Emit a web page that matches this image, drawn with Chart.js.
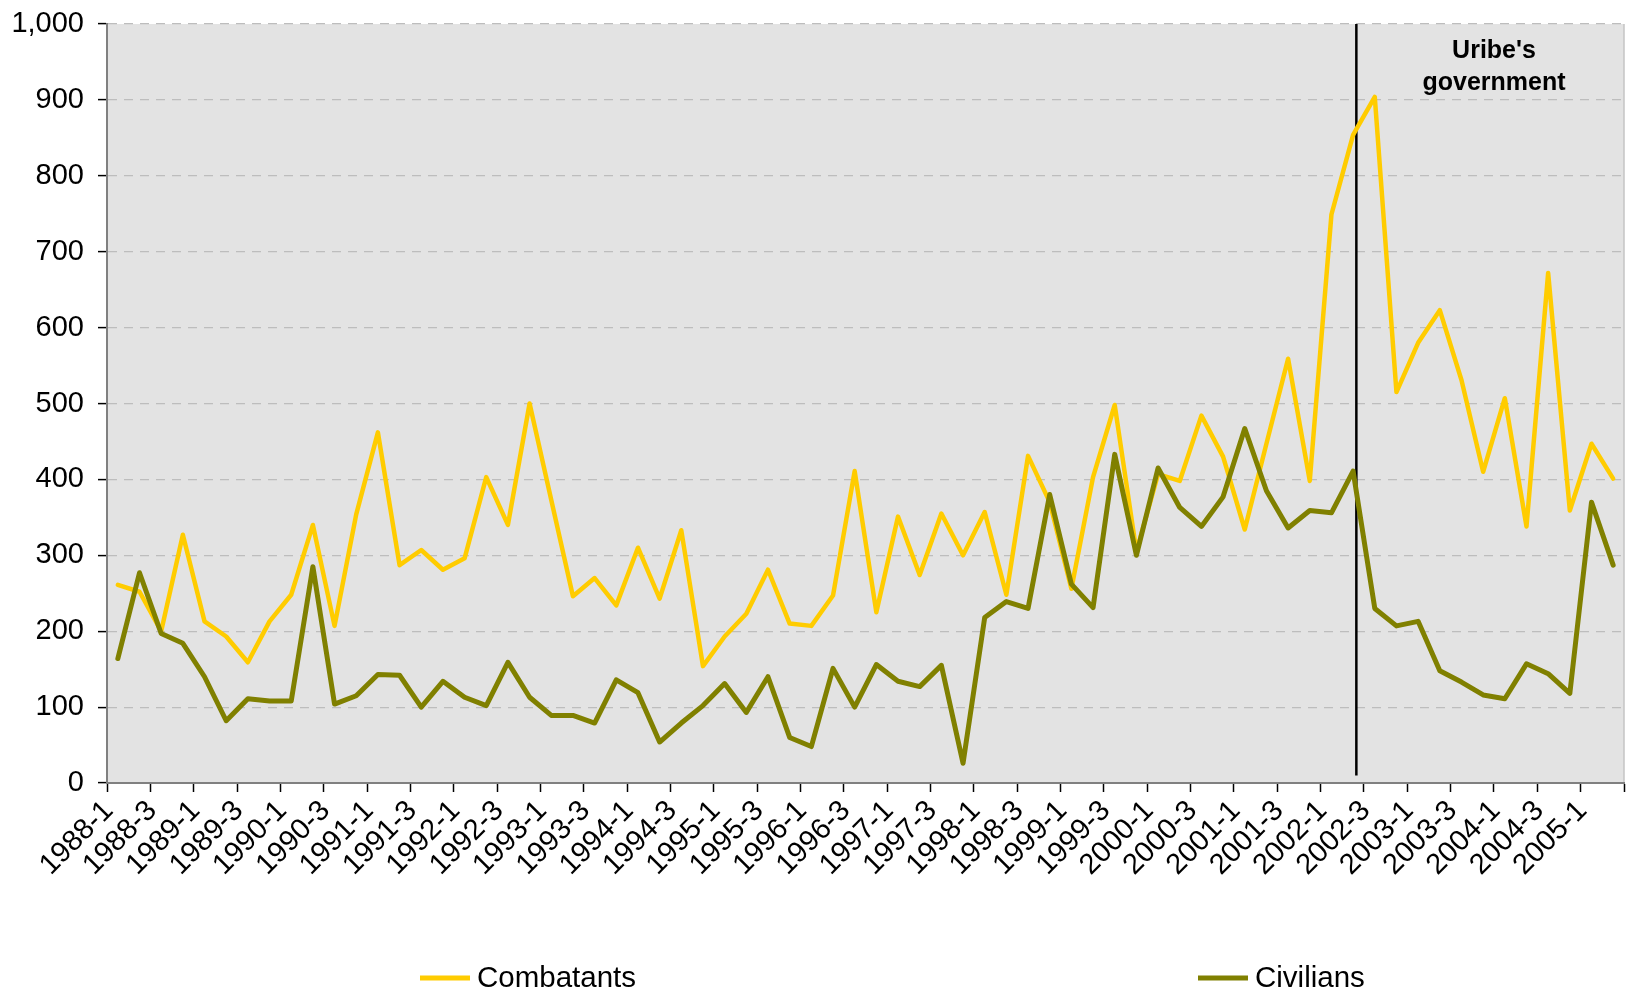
<!DOCTYPE html>
<html>
<head>
<meta charset="utf-8">
<script src="https://cdn.jsdelivr.net/npm/chart.js@4.4.1/dist/chart.umd.min.js"></script>
<style>
  html, body { margin: 0; padding: 0; background: #fff; }
  #wrap { width: 1626px; height: 992px; position: relative; }
</style>
</head>
<body>
<div id="wrap"><canvas id="lineChart"></canvas></div>
<script>
// Quarterly deaths, 1988-1 .. 2005-2
const quarters = [
    '1988-1', '1988-2', '1988-3', '1988-4', '1989-1', '1989-2', '1989-3', '1989-4',
    '1990-1', '1990-2', '1990-3', '1990-4', '1991-1', '1991-2', '1991-3', '1991-4',
    '1992-1', '1992-2', '1992-3', '1992-4', '1993-1', '1993-2', '1993-3', '1993-4',
    '1994-1', '1994-2', '1994-3', '1994-4', '1995-1', '1995-2', '1995-3', '1995-4',
    '1996-1', '1996-2', '1996-3', '1996-4', '1997-1', '1997-2', '1997-3', '1997-4',
    '1998-1', '1998-2', '1998-3', '1998-4', '1999-1', '1999-2', '1999-3', '1999-4',
    '2000-1', '2000-2', '2000-3', '2000-4', '2001-1', '2001-2', '2001-3', '2001-4',
    '2002-1', '2002-2', '2002-3', '2002-4', '2003-1', '2003-2', '2003-3', '2003-4',
    '2004-1', '2004-2', '2004-3', '2004-4', '2005-1', '2005-2'
];

const combatants = [
    261, 252, 200, 327, 213, 193, 159, 213, 248, 340, 207, 354,
    462, 287, 307, 281, 296, 403, 340, 500, 373, 246, 270, 234,
    310, 243, 333, 154, 193, 223, 281, 210, 207, 247, 411, 225,
    351, 274, 355, 300, 357, 248, 431, 370, 256, 403, 498, 305,
    407, 398, 484, 430, 334, 447, 559, 398, 749, 854, 904, 515,
    580, 623, 531, 410, 507, 338, 672, 359, 447, 401
];

const civilians = [
    164, 277, 197, 184, 140, 82, 111, 108, 108, 285, 104, 115,
    143, 142, 100, 134, 113, 102, 159, 113, 89, 89, 79, 136,
    119, 54, 79, 102, 131, 93, 140, 60, 48, 151, 100, 156,
    134, 127, 155, 26, 218, 239, 230, 380, 262, 231, 433, 300,
    415, 363, 338, 377, 467, 385, 336, 359, 356, 411, 230, 207,
    213, 148, 133, 116, 111, 157, 144, 118, 370, 287
];

// start of Uribe's government, in category units (between 2002-2 and 2002-3)
const uribeStart = 57.15;
const uribeLabel = ["Uribe's", 'government'];

const FONT = "'Liberation Sans', Arial, sans-serif";
const legendX = [420, 1198];
const legendY = 978;

// grey plot background + right border
const plotFrame = {
    id: 'plotFrame',
    beforeDraw(chart) {
        const { ctx, chartArea: a } = chart;
        ctx.save();
        ctx.fillStyle = '#e3e3e3';
        ctx.fillRect(a.left, a.top, a.width, a.height);
        ctx.strokeStyle = '#c4c4c4';
        ctx.lineWidth = 1.5;
        ctx.beginPath();
        ctx.moveTo(a.right, a.top);
        ctx.lineTo(a.right, a.bottom);
        ctx.stroke();
        ctx.restore();
    }
};

// vertical marker + label
const uribeMarker = {
    id: 'uribeMarker',
    beforeDatasetsDraw(chart) {
        const { ctx, scales: { x, y } } = chart;
        const px = x.getPixelForValue(uribeStart);
        ctx.save();
        ctx.strokeStyle = '#000';
        ctx.lineWidth = 2.5;
        ctx.beginPath();
        ctx.moveTo(px, y.getPixelForValue(1000));
        ctx.lineTo(px, y.getPixelForValue(10));
        ctx.stroke();
        ctx.font = 'bold 25px ' + FONT;
        ctx.textAlign = 'center';
        ctx.textBaseline = 'middle';
        ctx.fillStyle = '#000';
        const cx = x.getPixelForValue(63.5);
        ctx.fillText(uribeLabel[0], cx, y.getPixelForValue(964));
        ctx.fillText(uribeLabel[1], cx, y.getPixelForValue(922));
        ctx.restore();
    }
};

// legend with the two entries spread apart, like the original
const splitLegend = {
    id: 'splitLegend',
    afterDraw(chart) {
        const { ctx } = chart;
        ctx.save();
        ctx.font = '29.5px ' + FONT;
        ctx.textBaseline = 'middle';
        chart.data.datasets.forEach((ds, i) => {
            const x0 = legendX[i];
            ctx.strokeStyle = ds.borderColor;
            ctx.lineWidth = 5;
            ctx.beginPath();
            ctx.moveTo(x0, legendY);
            ctx.lineTo(x0 + 50, legendY);
            ctx.stroke();
            ctx.fillStyle = '#000';
            ctx.fillText(ds.label, x0 + 57, legendY + 1);
        });
        ctx.restore();
    }
};

const ctx = document.getElementById('lineChart').getContext('2d');
new Chart(ctx, {
    type: 'line',
    data: {
        labels: quarters,
        datasets: [{
            label: 'Combatants',
            data: combatants,
            borderColor: '#ffcc00',
            borderWidth: 4.5,
            order: 1
        }, {
            label: 'Civilians',
            data: civilians,
            borderColor: '#808000',
            borderWidth: 5,
            order: 0
        }]
    },
    options: {
        responsive: true,
        maintainAspectRatio: false,
        animation: false,
        layout: { padding: { top: 24, right: 2, bottom: 79, left: 0 } },
        elements: {
            point: { radius: 0 },
            line: { tension: 0, borderJoinStyle: 'round', borderCapStyle: 'round' }
        },
        plugins: {
            legend: { display: false },
            tooltip: { enabled: false }
        },
        scales: {
            x: {
                offset: true,
                grid: {
                    offset: true,
                    drawOnChartArea: false,
                    tickLength: 9,
                    tickWidth: 1.5,
                    tickColor: c => (c.type !== 'tick' || c.index % 2 === 0) ? '#000' : 'rgba(0,0,0,0)'
                },
                border: { color: '#808080', width: 2 },
                ticks: {
                    autoSkip: false,
                    minRotation: 45,
                    maxRotation: 45,
                    padding: 2,
                    labelOffset: -9,
                    color: '#000',
                    font: { family: FONT, size: 29 },
                    callback: (v, i) => i % 2 === 0 ? quarters[i] : ''
                },
                afterFit: s => { s.height = 130; s.paddingLeft = 0; s.paddingRight = 0; }
            },
            y: {
                min: 0,
                max: 1000,
                ticks: {
                    stepSize: 100,
                    padding: 14,
                    color: '#000',
                    font: { family: FONT, size: 29 },
                    callback: v => v.toLocaleString('en-US')
                },
                grid: {
                    color: c => (c.tick && c.tick.value === 0) ? 'rgba(0,0,0,0)' : '#bdbdbd',
                    lineWidth: 1.2,
                    tickLength: 9,
                    tickColor: '#000',
                    tickWidth: 1.5,
                    tickBorderDash: []
                },
                border: { color: '#808080', width: 2, dash: [9, 7] },
                afterFit: s => { s.width = 107; s.paddingTop = 0; s.paddingBottom = 0; }
            }
        }
    },
    plugins: [plotFrame, uribeMarker, splitLegend]
});
</script>
</body>
</html>
